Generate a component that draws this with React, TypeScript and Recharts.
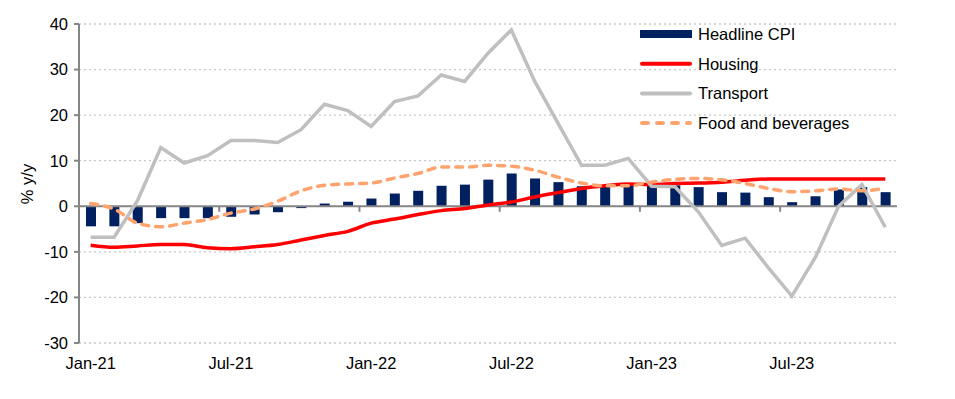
import React from 'react';
import { ComposedChart, Bar, Line, XAxis, YAxis, CartesianGrid, ReferenceLine } from 'recharts';

const categories = ['Jan-21','Feb-21','Mar-21','Apr-21','May-21','Jun-21','Jul-21','Aug-21','Sep-21','Oct-21','Nov-21','Dec-21',
  'Jan-22','Feb-22','Mar-22','Apr-22','May-22','Jun-22','Jul-22','Aug-22','Sep-22','Oct-22','Nov-22','Dec-22',
  'Jan-23','Feb-23','Mar-23','Apr-23','May-23','Jun-23','Jul-23','Aug-23','Sep-23','Oct-23','Nov-23'];

const headlineCPI = [-4.4,-4.4,-3.7,-2.6,-2.6,-2.6,-2.3,-1.8,-1.3,-0.4,0.6,1.0,1.7,2.8,3.4,4.5,4.75,5.85,7.2,6.1,5.3,4.4,4.6,4.6,4.8,4.6,4.2,3.1,3.0,2.0,0.9,2.2,3.7,4.2,3.1];
const housing = [-8.55,-9.0,-8.7,-8.4,-8.4,-9.1,-9.3,-8.9,-8.4,-7.4,-6.4,-5.5,-3.7,-2.8,-1.8,-0.95,-0.5,0.3,0.95,2.05,3.0,3.9,4.5,4.9,4.8,5.0,5.1,5.3,5.7,6.0,6.0,6.0,6.0,6.0,6.0];
const transport = [-6.8,-6.8,1.2,12.9,9.5,11.1,14.45,14.45,14.0,16.8,22.4,21.0,17.5,23.0,24.2,28.8,27.4,33.6,38.7,27.4,18.2,9.0,9.0,10.5,4.4,4.3,-1.2,-8.6,-7.0,-13.5,-19.7,-11.3,0.0,4.75,-4.6];
const foodAndBeverages = [0.6,-0.6,-3.7,-4.5,-3.7,-2.9,-1.5,-0.6,1.1,3.4,4.6,4.9,5.1,6.2,7.2,8.6,8.6,9.0,8.8,7.9,6.4,5.1,4.5,4.5,5.3,5.9,6.1,5.8,5.0,3.9,3.2,3.4,3.8,3.4,4.0];

const yTicks = [-30,-20,-10,0,10,20,30,40];
const halfYearBoundaries = ['Jun-21','Dec-21','Jun-22','Dec-22','Jun-23'];

const data = categories.map((c, i) => ({
  month: c,
  headline: headlineCPI[i],
  housing: housing[i],
  transport: transport[i],
  food: foodAndBeverages[i],
}));

const W = 955;
const H = 399;
const MARGIN = { top: 24, right: 58, bottom: 26, left: 29 };
const Y_AXIS_W = 50;
const X_AXIS_H = 30;
const PLOT_W = W - MARGIN.left - MARGIN.right - Y_AXIS_W;
const HALF_BAND = PLOT_W / categories.length / 2;

const FONT = '"Liberation Sans", Arial, sans-serif';
const FS = 16.5;
const AXIS = '#868686';
const NAVY = '#002060';
const RED = '#ff0000';
const GREY = '#bfbfbf';
const PEACH = '#ffa46e';

const legendItems = [
  { name: 'Headline CPI', kind: 'bar', color: NAVY },
  { name: 'Housing', kind: 'line', color: RED },
  { name: 'Transport', kind: 'line', color: GREY },
  { name: 'Food and beverages', kind: 'dash', color: PEACH },
];

const ChartLegend = () => (
  <svg width={270} height={120} style={{ position: 'absolute', left: 630, top: 20, overflow: 'visible' }}>
    {legendItems.map((it, i) => {
      const cy = 14 + i * 29.7;
      return (
        <g key={it.name}>
          {it.kind === 'bar' ? (
            <rect x={10} y={cy - 4} width={52} height={8} fill={it.color} />
          ) : (
            <line x1={12} x2={60} y1={cy} y2={cy} stroke={it.color} strokeWidth={4}
              strokeLinecap="round" strokeDasharray={it.kind === 'dash' ? '6 9' : undefined} />
          )}
          <text x={68} y={cy} dominantBaseline="central" fontFamily={FONT} fontSize={FS} fill="#000">{it.name}</text>
        </g>
      );
    })}
  </svg>
);

const XTick = (props: any) => {
  const { x, y, payload } = props;
  return (
    <text x={x} y={y} dy={12} textAnchor="middle" dominantBaseline="central" fontFamily={FONT} fontSize={FS} fill="#000">
      {payload.value}
    </text>
  );
};

const BoundaryTick = (props: any) => {
  const { x1, y1, x2, y2 } = props;
  return <line x1={x1 + HALF_BAND} x2={x2 + HALF_BAND} y1={y1} y2={y2} stroke={AXIS} strokeWidth={2} />;
};

export default function App() {
  return (
    <div style={{ position: 'absolute', left: 0, top: 0, width: W, height: H, background: '#fff' }}>
      <ComposedChart width={W} height={H} data={data} margin={MARGIN} barCategoryGap={0}>
        <CartesianGrid vertical={false} stroke="#c8c8c8" strokeDasharray="2 3" strokeWidth={1.3} />
        <XAxis dataKey="month" interval={5} axisLine={false} tickLine={false} height={X_AXIS_H}
          tick={<XTick />} />
        <YAxis domain={[-30, 40]} ticks={yTicks} width={Y_AXIS_W} axisLine={{ stroke: AXIS, strokeWidth: 2 }}
          tickLine={{ stroke: AXIS, strokeWidth: 2 }} tickSize={5} tickMargin={6}
          tick={{ fontFamily: FONT, fontSize: FS, fill: '#000' }}
          label={{
            content: () => (
              <text x={27} y={184} transform="rotate(-90 27 184)" textAnchor="middle" dominantBaseline="central"
                fontFamily={FONT} fontSize={FS} fill="#000">% y/y</text>
            ),
          }} />
        <Bar dataKey="headline" name="Headline CPI" fill={NAVY} barSize={10} isAnimationActive={false} />
        <ReferenceLine y={0} stroke={AXIS} strokeWidth={2} />
        {halfYearBoundaries.map((m) => (
          <ReferenceLine key={m} segment={[{ x: m, y: 0 }, { x: m, y: -1.2 }]} shape={<BoundaryTick />} />
        ))}
        <Line dataKey="housing" name="Housing" type="monotone" stroke={RED} strokeWidth={3.5} dot={false} isAnimationActive={false} />
        <Line dataKey="transport" name="Transport" type="linear" stroke={GREY} strokeWidth={3.5} dot={false} isAnimationActive={false} />
        <Line dataKey="food" name="Food and beverages" type="monotone" stroke={PEACH} strokeWidth={3.5}
          strokeDasharray="7 7" strokeLinecap="round" dot={false} isAnimationActive={false} />
      </ComposedChart>
      <ChartLegend />
    </div>
  );
}
